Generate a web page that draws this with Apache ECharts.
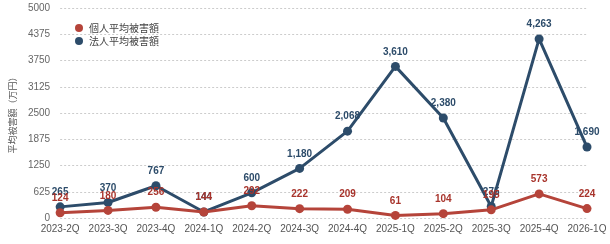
<!DOCTYPE html>
<html>
<head>
<meta charset="utf-8">
<script src="https://cdn.jsdelivr.net/npm/echarts@6/dist/echarts.min.js"></script>
<style>
  html, body { margin: 0; padding: 0; background: #fff; }
  #main { width: 610px; height: 244px; }
</style>
</head>
<body>
<div id="main"></div>
<script>
const quarters = ['2023-2Q', '2023-3Q', '2023-4Q', '2024-1Q', '2024-2Q', '2024-3Q',
  '2024-4Q', '2025-1Q', '2025-2Q', '2025-3Q', '2025-4Q', '2026-1Q']
const kojinData = [124, 180, 256, 144, 292, 222, 209, 61, 104, 195, 573, 224]
const hojinData = [265, 370, 767, 144, 600, 1180, 2068, 3610, 2380, 275, 4263, 1690]

const redColor = '#b5443a'
const blueColor = '#2d4c6a'

const myChart = echarts.init(document.getElementById('main'))

function makeLabel(color) {
  return {
    show: true,
    position: 'top',
    distance: 5,
    color: color,
    fontSize: 10,
    fontWeight: 'bold',
    fontFamily: 'Liberation Sans, Arial, sans-serif',
    formatter: p => p.value.toLocaleString('en-US')
  }
}

myChart.setOption({
  animation: false,
  textStyle: { fontFamily: 'Liberation Sans, Noto Sans CJK JP, sans-serif' },
  legend: {
    orient: 'vertical',
    left: 70,
    top: 18,
    itemWidth: 10,
    itemHeight: 8,
    itemGap: 3,
    icon: 'circle',
    textStyle: { fontSize: 10, color: '#444', fontFamily: 'Noto Sans CJK JP' },
    data: ['個人平均被害額', '法人平均被害額']
  },
  grid: {
    left: 49,
    right: 23,
    top: 8,
    bottom: 26
  },
  xAxis: {
    type: 'category',
    boundaryGap: false,
    data: quarters,
    axisLine: { show: false },
    axisTick: { show: false },
    axisLabel: { color: '#555', fontSize: 10, margin: 6, interval: 0 }
  },
  yAxis: {
    type: 'value',
    min: 0,
    max: 5000,
    interval: 625,
    name: '平均被害額（万円）',
    nameLocation: 'middle',
    nameGap: 34,
    nameRotate: 90,
    nameTextStyle: { fontSize: 9, color: '#555', fontFamily: 'Noto Sans CJK JP' },
    axisLabel: { color: '#666', fontSize: 10, margin: 10, formatter: v => String(v) },
    splitLine: { lineStyle: { type: [2, 2], color: '#ccc', width: 1 } }
  },
  series: [
    {
      name: '法人平均被害額',
      type: 'line',
      data: hojinData,
      symbol: 'circle',
      symbolSize: 9,
      itemStyle: { color: blueColor },
      lineStyle: { width: 3, color: blueColor },
      label: makeLabel('#2d4c6a'),
      labelLayout: { hideOverlap: false }
    },
    {
      name: '個人平均被害額',
      type: 'line',
      data: kojinData,
      zlevel: 1,
      symbol: 'circle',
      symbolSize: 9,
      itemStyle: { color: redColor },
      lineStyle: { width: 3, color: redColor },
      label: makeLabel('#a8342c'),
      labelLayout: { hideOverlap: false }
    }
  ]
})
</script>
</body>
</html>
